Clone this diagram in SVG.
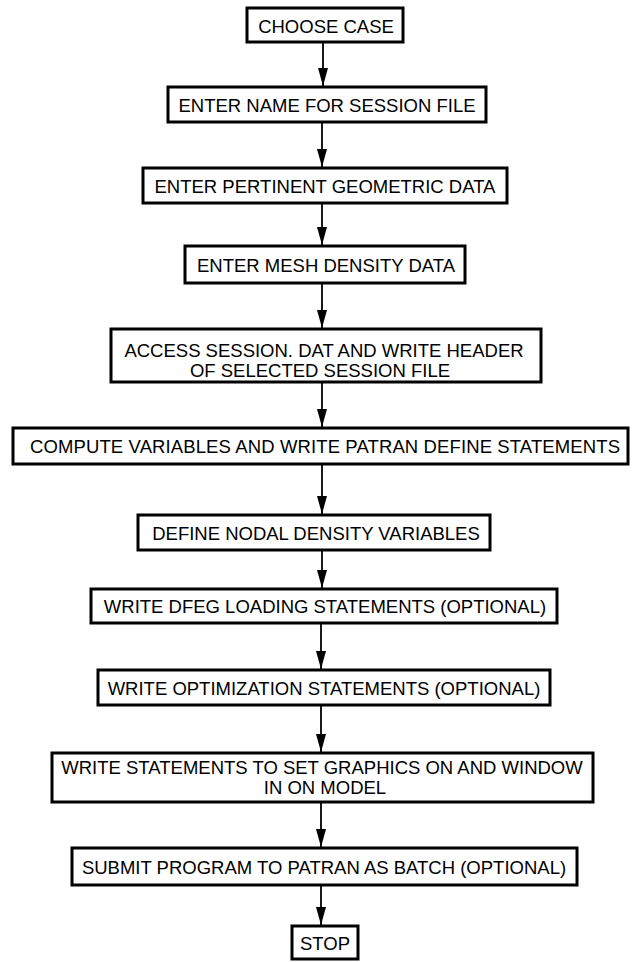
<svg xmlns="http://www.w3.org/2000/svg" width="635" height="962" viewBox="0 0 635 962">
<style>
.box{fill:#fff;stroke:#000;stroke-width:3}
.t{font-family:"Liberation Sans",Arial,sans-serif;font-size:18.5px;fill:#000;text-anchor:middle}
.c{stroke:#000;stroke-width:1.8;fill:none}
</style>
<defs>
<marker id="ah" viewBox="0 0 18 11" refX="18" refY="5.5" markerWidth="18" markerHeight="11" markerUnits="userSpaceOnUse" orient="auto">
<path d="M0,0.5 L18,5.5 L0,10.5 Z" fill="#000"/>
</marker>
</defs>
<rect width="635" height="962" fill="#fff"/>
<g id="connectors">
<line class="c" x1="323" y1="42" x2="323" y2="86" marker-end="url(#ah)"/>
<line class="c" x1="322" y1="122" x2="322" y2="167" marker-end="url(#ah)"/>
<line class="c" x1="322" y1="203" x2="322" y2="245" marker-end="url(#ah)"/>
<line class="c" x1="322" y1="283" x2="322" y2="328" marker-end="url(#ah)"/>
<line class="c" x1="322" y1="382" x2="322" y2="427" marker-end="url(#ah)"/>
<line class="c" x1="322" y1="464" x2="322" y2="514" marker-end="url(#ah)"/>
<line class="c" x1="322" y1="550" x2="322" y2="588" marker-end="url(#ah)"/>
<line class="c" x1="321" y1="623" x2="321" y2="669" marker-end="url(#ah)"/>
<line class="c" x1="321" y1="705" x2="321" y2="752" marker-end="url(#ah)"/>
<line class="c" x1="321" y1="802" x2="321" y2="847" marker-end="url(#ah)"/>
<line class="c" x1="321" y1="885" x2="321" y2="925" marker-end="url(#ah)"/>
</g>
<g id="n1"><rect class="box" x="247" y="8" width="156" height="34"/><text class="t" x="326" y="32.5">CHOOSE CASE</text></g>
<g id="n2"><rect class="box" x="168" y="87" width="318" height="35"/><text class="t" x="327" y="111.5">ENTER NAME FOR SESSION FILE</text></g>
<g id="n3"><rect class="box" x="143" y="168" width="364" height="35"/><text class="t" x="325" y="192.5">ENTER PERTINENT GEOMETRIC DATA</text></g>
<g id="n4"><rect class="box" x="185" y="246" width="280" height="37"/><text class="t" x="326" y="271.5">ENTER MESH DENSITY DATA</text></g>
<g id="n5"><rect class="box" x="111" y="329" width="430" height="53"/><text class="t" x="324" y="357">ACCESS SESSION. DAT AND WRITE HEADER</text><text class="t" x="320" y="377">OF SELECTED SESSION FILE</text></g>
<g id="n6"><rect class="box" x="13" y="428" width="615" height="36"/><text class="t" x="325" y="453" textLength="590">COMPUTE VARIABLES AND WRITE PATRAN DEFINE STATEMENTS</text></g>
<g id="n7"><rect class="box" x="138" y="515" width="352" height="35"/><text class="t" x="316" y="539.5">DEFINE NODAL DENSITY VARIABLES</text></g>
<g id="n8"><rect class="box" x="91" y="589" width="466" height="34"/><text class="t" x="325" y="612.5">WRITE DFEG LOADING STATEMENTS (OPTIONAL)</text></g>
<g id="n9"><rect class="box" x="98" y="670" width="452" height="35"/><text class="t" x="324" y="694.5">WRITE OPTIMIZATION STATEMENTS (OPTIONAL)</text></g>
<g id="n10"><rect class="box" x="52" y="753" width="541" height="49"/><text class="t" x="322" y="774">WRITE STATEMENTS TO SET GRAPHICS ON AND WINDOW</text><text class="t" x="325" y="794">IN ON MODEL</text></g>
<g id="n11"><rect class="box" x="72" y="848" width="505" height="37"/><text class="t" x="324" y="873.5">SUBMIT PROGRAM TO PATRAN AS BATCH (OPTIONAL)</text></g>
<g id="n12"><rect class="box" x="292" y="926" width="66" height="33"/><text class="t" x="325" y="949.5">STOP</text></g>
</svg>
